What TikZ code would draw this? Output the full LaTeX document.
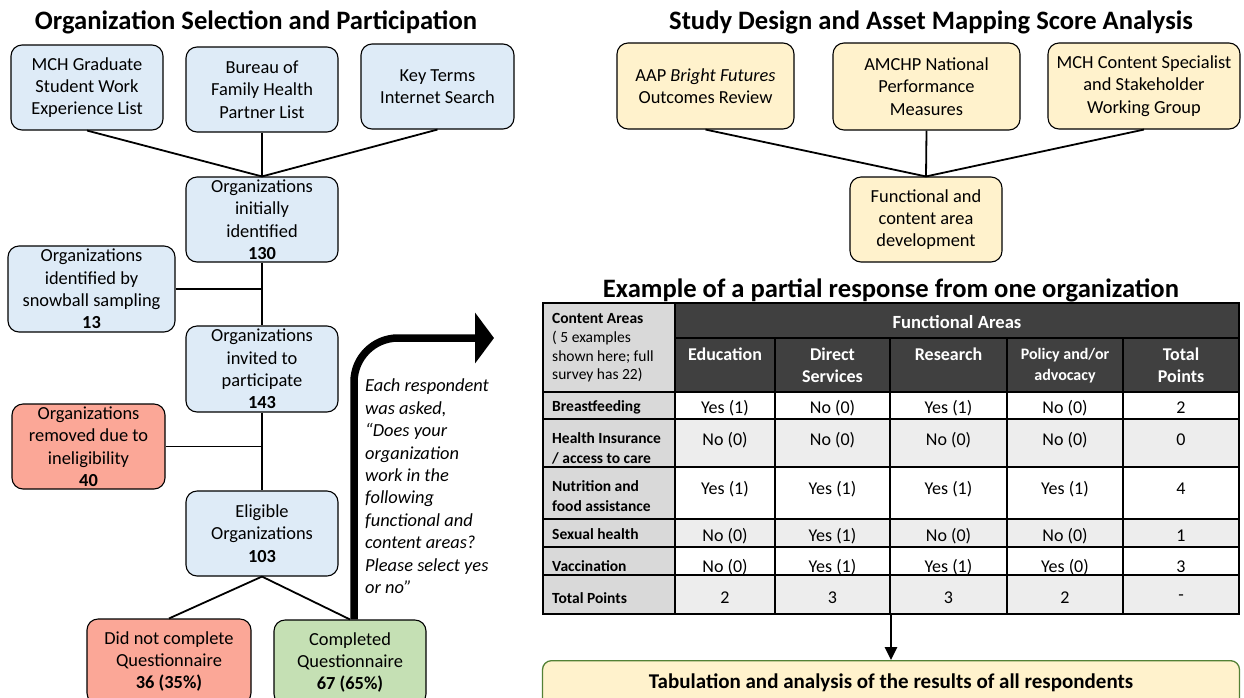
\documentclass[tikz,border=0pt]{standalone}
\usepackage{fontspec}
\setmainfont{Carlito}
\usetikzlibrary{arrows.meta}

\definecolor{bluebox}{HTML}{DEEBF7}
\definecolor{redbox}{HTML}{FBA797}
\definecolor{greenbox}{HTML}{C5E0B4}
\definecolor{yellowbox}{HTML}{FFF2CC}
\definecolor{hdrdark}{HTML}{404040}
\definecolor{colgray}{HTML}{D9D9D9}
\definecolor{rowgray}{HTML}{EDEDED}
\definecolor{olivedge}{HTML}{538135}

\begin{document}
\begin{tikzpicture}[x=1pt,y=-1pt,
  box/.style={draw=black, line width=1.1pt, rounded corners=11pt, align=center,
    inner sep=0pt, font=\fontsize{18.4}{22.4}\selectfont},
  link/.style={line width=1.8pt},
  title/.style={font=\fontsize{26.6}{30}\selectfont\bfseries, inner sep=0pt},
  tabline/.style={line width=1.2pt, black},
  rowlab/.style={anchor=west, align=left, inner sep=0pt,
    font=\fontsize{15.5}{20}\selectfont\bfseries},
  hdr/.style={align=center, inner sep=0pt, text=white,
    font=\fontsize{18}{22}\selectfont\bfseries},
  cell/.style={inner sep=0pt, font=\fontsize{18}{22}\selectfont}
]
\useasboundingbox (0,0) rectangle (1244,697);
\clip (0,0) rectangle (1244,697);

% ---------- Organization selection flow ----------
\node[title] (t1) at (256,22) {Organization Selection and Participation};

\node[box, fill=bluebox, minimum width=152pt, minimum height=85pt] (mch) at (87,87.5)
  {MCH Graduate\\Student Work\\Experience List};
\node[box, fill=bluebox, minimum width=152pt, minimum height=85pt] (bfh) at (262,89.5)
  {Bureau of\\Family Health\\Partner List};
\node[box, fill=bluebox, minimum width=153pt, minimum height=85pt] (key) at (437.5,86.5)
  {Key Terms\\Internet Search};
\node[box, fill=bluebox, minimum width=152pt, minimum height=85pt] (init) at (262,219.5)
  {Organizations\\initially\\identified\\\textbf{130}};
\node[box, fill=bluebox, minimum width=167pt, minimum height=86pt] (snow) at (91.5,289)
  {Organizations\\identified by\\snowball sampling\\\textbf{13}};
\node[box, fill=bluebox, minimum width=152pt, minimum height=86pt] (invt) at (262,369)
  {Organizations\\invited to\\participate\\\textbf{143}};
\node[box, fill=redbox, minimum width=153pt, minimum height=85pt] (remv) at (88.5,446.5)
  {Organizations\\removed due to\\ineligibility\\\textbf{40}};
\node[box, fill=bluebox, minimum width=152pt, minimum height=85pt] (elig) at (262,533.5)
  {Eligible\\Organizations\\\textbf{103}};
\node[box, fill=redbox, minimum width=164pt, minimum height=85pt] (dnc) at (169,661.5)
  {Did not complete\\Questionnaire\\\textbf{36 (35\%)}};
\node[box, fill=greenbox, minimum width=152pt, minimum height=85pt] (comp) at (350,662.5)
  {Completed\\Questionnaire\\\textbf{67 (65\%)}};

\draw[link] (mch.south) -- (init.north);
\draw[link] (bfh.south) -- (init.north);
\draw[link] (key.south) -- (init.north);
\draw[link] (init.south) -- (invt.north);
\draw[link] (snow.east) -- (snow.east -| init.south);
\draw[link] (invt.south) -- (elig.north);
\draw[link] (remv.east) -- (remv.east -| invt.south);
\draw[link] (elig.south) -- (dnc.north);
\draw[link] (elig.south) -- (comp.north);

% thick bent arrow from the completed questionnaires
\coordinate (tip) at (494,338);
\draw[line width=7.5pt, rounded corners=44pt, -{Triangle[length=19pt,width=50pt]}]
  ([xshift=4pt]comp.north) |- (tip);

\node[anchor=north west, align=left, inner sep=0pt,
  font=\fontsize{18.4}{22.4}\selectfont\itshape] (quote) at (365,379)
  {Each respondent\\was asked,\\“Does your\\organization\\work in the\\following\\functional and\\content areas?\\Please select yes\\or no”};

% ---------- Study design ----------
\node[title] (t2) at (931,22) {Study Design and Asset Mapping Score Analysis};

\node[box, fill=yellowbox, minimum width=177pt, minimum height=86pt] (aap) at (705.5,86)
  {AAP \textit{Bright Futures}\\Outcomes Review};
\node[box, fill=yellowbox, minimum width=187pt, minimum height=87pt] (amc) at (926.5,86.5)
  {AMCHP National\\Performance\\Measures};
\node[box, fill=yellowbox, minimum width=192pt, minimum height=86pt] (mcs) at (1144,86)
  {MCH Content Specialist\\and Stakeholder\\Working Group};
\node[box, fill=yellowbox, minimum width=152pt, minimum height=85pt] (fca) at (926,219.5)
  {Functional and\\content area\\development};

\draw[link] (aap.south) -- (fca.north);
\draw[link] (amc.south) -- (fca.north);
\draw[link] (mcs.south) -- (fca.north);

% ---------- Example table ----------
\node[title] (t3) at (891,290) {Example of a partial response from one organization};

\fill[colgray] (543,303) rectangle (675,614);
\fill[hdrdark] (675,303) rectangle (1239,392);
\fill[white] (675,392) rectangle (1239,575);
\fill[rowgray] (675,419) rectangle (1239,467);
\fill[rowgray] (675,519) rectangle (1239,547);
\fill[rowgray] (675,575) rectangle (1239,614);

\draw[tabline] (543,303) rectangle (1239,614);
\draw[tabline] (675,338) -- (1239,338);
\foreach \yy in {392,419,467,519,547,575}
  \draw[tabline] (543,\yy) -- (1239,\yy);
\draw[tabline] (675,303) -- (675,614);
\foreach \xx in {775,890,1007,1123}
  \draw[tabline] (\xx,338) -- (\xx,614);

\node[rowlab] (ca) at (552,318) {Content Areas};
\node[anchor=west, align=left, inner sep=0pt, font=\fontsize{15.5}{18.5}\selectfont] (cae) at (552,357)
  {( 5 examples\\shown here; full\\survey has 22)};

\node[hdr, font=\fontsize{18.6}{22}\selectfont\bfseries] (fa) at (957,322) {Functional Areas};
\node[hdr, anchor=north] (h1) at (725,348) {Education};
\node[hdr, anchor=north] (h2) at (832.5,348) {Direct\\Services};
\node[hdr, anchor=north] (h3) at (948.5,348) {Research};
\node[hdr, anchor=north, font=\fontsize{16}{21}\selectfont\bfseries] (h4) at (1065,348) {Policy and/or\\advocacy};
\node[hdr, anchor=north] (h5) at (1181,348) {Total\\Points};

\node[rowlab] (r1) at (552,407) {Breastfeeding};
\node[rowlab] (r2) at (552,448) {Health Insurance\\/ access to care};
\node[rowlab] (r3) at (552,496) {Nutrition and\\food assistance};
\node[rowlab] (r4) at (552,534) {Sexual health};
\node[rowlab] (r5) at (552,566) {Vaccination};
\node[rowlab] (r6) at (552,598) {Total Points};

\foreach \yy/\a/\b/\c/\d/\e [count=\r] in
  {408/Yes (1)/No (0)/Yes (1)/No (0)/2,
   440/No (0)/No (0)/No (0)/No (0)/0,
   489/Yes (1)/Yes (1)/Yes (1)/Yes (1)/4,
   536/No (0)/Yes (1)/No (0)/No (0)/1,
   567/No (0)/Yes (1)/Yes (1)/Yes (0)/3,
   598/2/3/3/2/-}{
  \node[cell] (v\r-1) at (725,\yy) {\a};
  \node[cell] (v\r-2) at (832.5,\yy) {\b};
  \node[cell] (v\r-3) at (948.5,\yy) {\c};
  \node[cell] (v\r-4) at (1065,\yy) {\d};
  \node[cell] (v\r-5) at (1181,\yy) {\e};
}

% ---------- Tabulation ----------
\coordinate (tbot) at (891,614);
\node[draw=olivedge, line width=1.3pt, fill=yellowbox, rounded corners=9pt,
  anchor=north, minimum width=697pt, inner ysep=0pt, text height=28pt, text depth=30pt,
  font=\fontsize{21}{24}\selectfont\bfseries] (tabu) at (891,660)
  {Tabulation and analysis of the results of all respondents};
\draw[line width=2.6pt, -{Triangle[length=13pt,width=12pt]}] (tbot) -- (tbot |- tabu.north);
\end{tikzpicture}
\end{document}
